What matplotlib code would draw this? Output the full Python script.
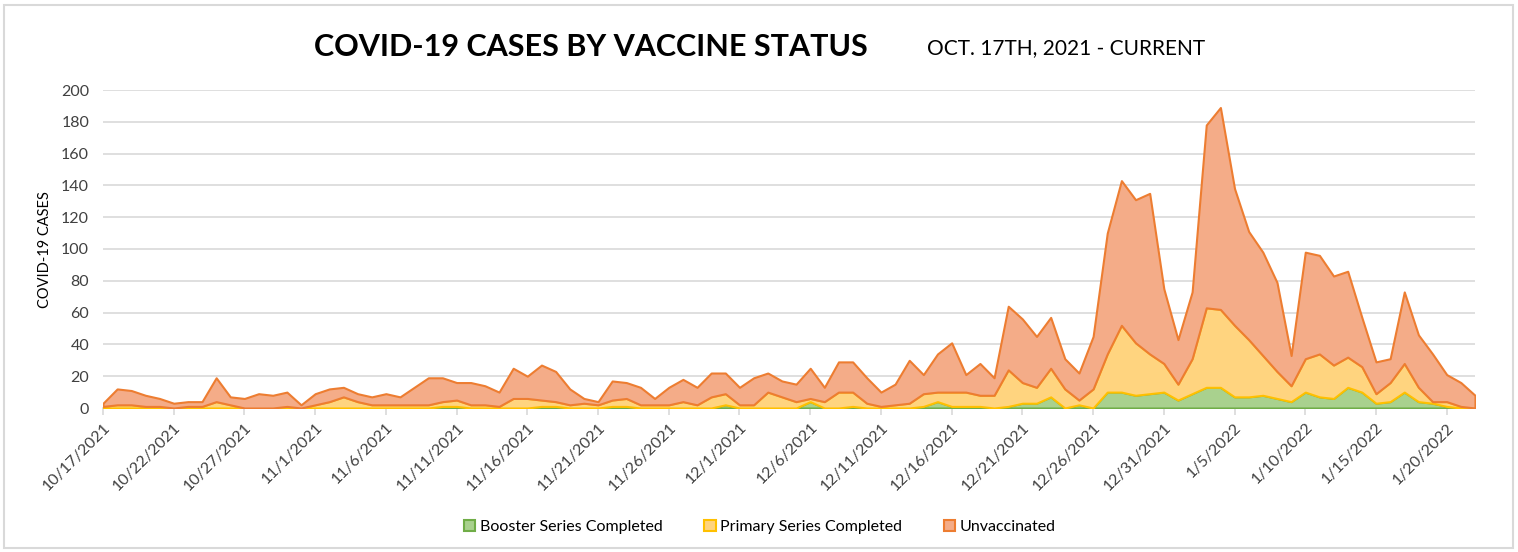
import numpy as np
import pandas as pd
import matplotlib
matplotlib.use("Agg")
import matplotlib.pyplot as plt
from matplotlib.patches import Patch, Rectangle

plt.rcParams['font.family'] = ['Lato', 'DejaVu Sans']

# daily counts, 10/17/2021 .. 1/22/2022
dates = pd.date_range("2021-10-17", "2022-01-22", freq="D")

booster = [0, 0, 0, 0, 0, 0, 0, 0, 0, 0, 0, 0, 0, 0, 0, 0, 0, 0, 0, 0,
           0, 0, 0, 0, 1, 1, 0, 0, 0, 0, 0, 1, 1, 0, 0, 0, 1, 1, 0, 0,
           0, 0, 0, 0, 2, 0, 0, 0, 0, 0, 4, 0, 0, 1, 0, 0, 0, 0, 1, 4,
           1, 1, 1, 0, 1, 3, 3, 7, 0, 2, 0, 10, 10, 8, 9, 10, 5, 9, 13, 13,
           7, 7, 8, 6, 4, 10, 7, 6, 13, 10, 3, 4, 10, 4, 3, 1, 0, 0]

primary = [1, 2, 2, 1, 1, 0, 1, 1, 4, 2, 0, 0, 0, 1, 0, 2, 4, 7, 4, 2,
           2, 2, 2, 2, 3, 4, 2, 2, 1, 6, 6, 4, 3, 2, 3, 2, 4, 5, 2, 2,
           2, 4, 2, 7, 7, 2, 2, 10, 7, 4, 2, 4, 10, 9, 3, 1, 2, 3, 8, 6,
           9, 9, 7, 8, 23, 13, 10, 18, 12, 3, 12, 24, 42, 33, 25, 18, 10, 22, 50, 49,
           45, 36, 25, 17, 10, 21, 27, 21, 19, 16, 6, 12, 18, 9, 1, 3, 1, 0]

unvaccinated = [2, 10, 9, 7, 5, 3, 3, 3, 15, 5, 6, 9, 8, 9, 2, 7, 8, 6, 5, 5,
                7, 5, 11, 17, 15, 11, 14, 12, 9, 19, 14, 22, 19, 10, 3, 2, 12, 10, 11, 4,
                11, 14, 11, 15, 13, 11, 17, 12, 10, 11, 19, 9, 19, 19, 16, 9, 13, 27, 12, 24,
                31, 11, 20, 11, 40, 40, 32, 32, 19, 17, 33, 76, 91, 90, 101, 47, 28, 42, 115, 127,
                86, 68, 65, 56, 19, 67, 62, 56, 54, 31, 20, 15, 45, 33, 30, 17, 15, 8]

series_names = ["Booster Series Completed", "Primary Series Completed", "Unvaccinated"]
fill_colors = ["#A9D18E", "#FFD47F", "#F4AC88"]
edge_colors = ["#70AD47", "#FFC000", "#ED7D31"]

fig = plt.figure(figsize=(15.18, 5.52), dpi=100)
ax = fig.add_axes([103 / 1518, 1 - 408 / 552, (1475 - 103) / 1518, (408 - 90) / 552])

x = np.arange(len(dates))
base = np.zeros(len(dates))
for vals, fc, ec in zip([booster, primary, unvaccinated], fill_colors, edge_colors):
    top = base + np.array(vals)
    ax.fill_between(x, base, top, facecolor=fc, edgecolor=ec, linewidth=1.5, zorder=3)
    base = top

ax.set_xlim(0, len(dates) - 1)
ax.set_ylim(0, 200)
ax.set_yticks(range(0, 201, 20))
ax.grid(axis='y', color='#D9D9D9', linewidth=1.2, zorder=0)
ax.set_axisbelow(True)
for s in ['top', 'right', 'left']:
    ax.spines[s].set_visible(False)
ax.spines['bottom'].set_color('#D9D9D9')
ax.spines['bottom'].set_linewidth(1.2)

tick_idx = x[::5]
tick_labels = [f"{d.month}/{d.day}/{d.year}" for d in dates[::5]]
ax.set_xticks(tick_idx)
ax.set_xticklabels(tick_labels, rotation=45, ha='right', rotation_mode='anchor', fontsize=11.5, color='#404040')
ax.tick_params(axis='x', length=5, color='#D9D9D9', width=1.2, pad=4)
ax.tick_params(axis='y', length=0, labelsize=11.5, labelcolor='#404040', pad=10)

fig.text(45 / 1518, 1 - 250 / 552, "COVID-19 CASES", rotation=90, ha='center', va='center',
         fontsize=10.5, color='#000000')

fig.text(591 / 1518, 1 - 47 / 552, "COVID-19 CASES BY VACCINE STATUS", ha='center', va='center',
         fontsize=22, fontweight='bold', color='black')
fig.text(1066 / 1518, 1 - 48 / 552, "OCT. 17TH, 2021 - CURRENT", ha='center', va='center',
         fontsize=15, color='black')

handles = [Patch(facecolor=fc, edgecolor=ec, linewidth=1.5) for fc, ec in zip(fill_colors, edge_colors)]
fig.legend(handles, series_names, loc='center', bbox_to_anchor=(760 / 1518, 1 - 527 / 552), ncol=3,
           frameon=False, fontsize=11.5, handlelength=0.7, handleheight=0.7, handletextpad=0.3,
           columnspacing=2.6)

fig.add_artist(Rectangle((4 / 1518, 4 / 552), 1509 / 1518, 543 / 552, transform=fig.transFigure,
                         fill=False, edgecolor='#D9D9D9', linewidth=1.5))

fig.savefig("out.png", dpi=100, facecolor='white')
